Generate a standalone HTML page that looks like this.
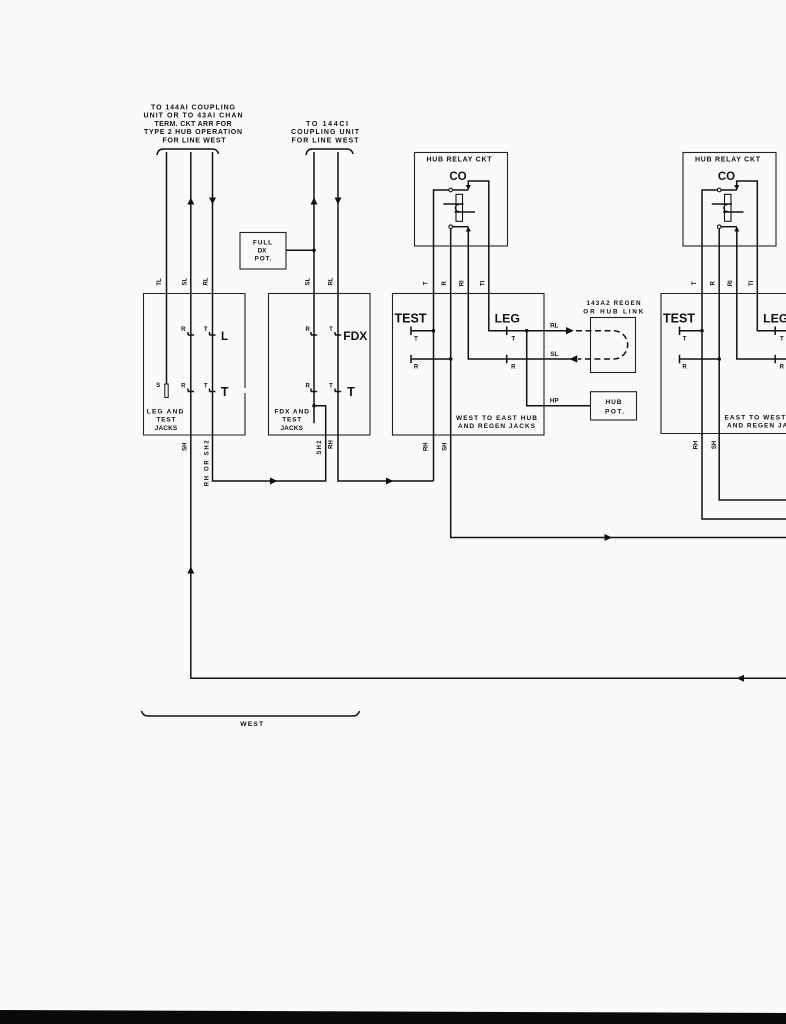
<!DOCTYPE html>
<html><head><meta charset="utf-8">
<style>
html,body{margin:0;padding:0;background:#fafafa;}
svg{display:block;}
text{font-family:"Liberation Sans",Arial,sans-serif;font-weight:bold;fill:#111;}
.w{stroke:#111;stroke-width:1.5;fill:none;}
.b{stroke:#222;stroke-width:1.1;fill:none;}
.f{fill:#111;stroke:none;}
</style></head><body>
<svg width="786" height="1024" viewBox="0 0 786 1024" xmlns="http://www.w3.org/2000/svg">
<rect width="786" height="1024" fill="#fafafa"/>

<!-- Top-left header text -->
<g font-size="7" text-anchor="middle">
<text x="193" y="109.3" textLength="84" lengthAdjust="spacing">TO 144AI COUPLING</text>
<text x="193" y="117.6" textLength="99" lengthAdjust="spacing">UNIT OR TO 43AI CHAN</text>
<text x="193" y="125.9" textLength="77" lengthAdjust="spacing">TERM. CKT ARR FOR</text>
<text x="193" y="134.2" textLength="98" lengthAdjust="spacing">TYPE 2 HUB OPERATION</text>
<text x="194" y="142.5" textLength="63" lengthAdjust="spacing">FOR LINE WEST</text>
<text x="327" y="125.9" textLength="42" lengthAdjust="spacing">TO 144CI</text>
<text x="325" y="134.2" textLength="68" lengthAdjust="spacing">COUPLING UNIT</text>
<text x="325" y="142.5" textLength="67" lengthAdjust="spacing">FOR LINE WEST</text>
</g>
<!-- braces -->
<path class="w" stroke-width="1.1" d="M157,155 Q158,149 163,149 L212.5,149 Q217.5,149 218.5,154"/>
<path class="w" stroke-width="1.1" d="M306,155 Q307,149 312,149 L347,149 Q352,149 353,154"/>

<!-- Full DX pot -->
<rect class="b" x="240" y="232.5" width="46" height="36.5"/>
<g font-size="6.3" text-anchor="middle">
<text x="262.5" y="244.5" textLength="19" lengthAdjust="spacing">FULL</text>
<text x="262" y="252.5">DX</text>
<text x="263" y="260.5" textLength="16.7" lengthAdjust="spacing">POT.</text>
</g>
<line class="w" x1="286" y1="250.3" x2="314" y2="250.3"/>
<circle class="f" cx="314" cy="250.3" r="1.8"/>

<!-- Left vertical wires -->
<line class="w" x1="166.5" y1="152" x2="166.5" y2="384"/>
<rect x="164.8" y="384" width="3.4" height="13.5" fill="#fafafa" stroke="#111" stroke-width="1"/>
<polyline class="w" points="190.8,152 190.8,678.3 790,678.3"/>
<polyline class="w" points="212.5,152 212.5,481 325.7,481 325.7,405.7 314,405.7"/>
<line class="w" x1="314" y1="152" x2="314" y2="423.3"/>
<circle class="f" cx="314" cy="405.7" r="1.8"/>
<polyline class="w" points="338,152 338,481 433.5,481"/>

<!-- Top arrows -->
<polygon class="f" points="190.8,197.5 187.3,204.5 194.3,204.5"/>
<polygon class="f" points="212.5,204.5 209,197.5 216,197.5"/>
<polygon class="f" points="314,197.5 310.5,204.5 317.5,204.5"/>
<polygon class="f" points="338,204.5 334.5,197.5 341.5,197.5"/>

<!-- Top wire labels -->
<g font-size="6" text-anchor="middle" dominant-baseline="central">
<text transform="translate(160,282) rotate(-90)">TL</text>
<text transform="translate(185.3,281.5) rotate(-90)">SL</text>
<text transform="translate(206.5,281.5) rotate(-90)">RL</text>
<text transform="translate(308.3,281.5) rotate(-90)">SL</text>
<text transform="translate(331.7,281.5) rotate(-90)">RL</text>
</g>

<!-- Box 1 -->
<path class="b" d="M245,388 L245,293.5 L143.5,293.5 L143.5,435 L245,435 L245,393"/>
<g class="w" stroke-width="1.2">
<line x1="188" y1="335" x2="194" y2="335"/><line x1="188" y1="332" x2="188" y2="335"/>
<line x1="209.5" y1="335" x2="215.5" y2="335"/><line x1="209.5" y1="332" x2="209.5" y2="335"/>
<line x1="188" y1="391.5" x2="194" y2="391.5"/><line x1="188" y1="388.5" x2="188" y2="391.5"/>
<line x1="209.5" y1="391.5" x2="215.5" y2="391.5"/><line x1="209.5" y1="388.5" x2="209.5" y2="391.5"/>
</g>
<g font-size="6" text-anchor="middle">
<text x="183.3" y="331">R</text><text x="205.7" y="331">T</text>
<text x="183.3" y="387.5">R</text><text x="205.7" y="387.5">T</text>
<text x="158.3" y="387">S</text>
</g>
<text x="224.5" y="340" font-size="11.5" text-anchor="middle">L</text>
<text x="224.7" y="396" font-size="12.5" text-anchor="middle">T</text>
<g font-size="6.5" text-anchor="middle">
<text x="165" y="413.5" textLength="36.5" lengthAdjust="spacing">LEG AND</text>
<text x="166" y="421.5" textLength="19" lengthAdjust="spacing">TEST</text>
<text x="166" y="429.8" textLength="22.5" lengthAdjust="spacing">JACKS</text>
</g>

<!-- Box 2 -->
<rect class="b" x="268.5" y="293.5" width="101.5" height="141.5"/>
<g class="w" stroke-width="1.2">
<line x1="311" y1="335" x2="317" y2="335"/><line x1="311" y1="332" x2="311" y2="335"/>
<line x1="335" y1="335" x2="341" y2="335"/><line x1="335" y1="332" x2="335" y2="335"/>
<line x1="311" y1="391.5" x2="317" y2="391.5"/><line x1="311" y1="388.5" x2="311" y2="391.5"/>
<line x1="335" y1="391.5" x2="341" y2="391.5"/><line x1="335" y1="388.5" x2="335" y2="391.5"/>
</g>
<g font-size="6" text-anchor="middle">
<text x="307.7" y="331">R</text><text x="331" y="331">T</text>
<text x="307.7" y="387.5">R</text><text x="331" y="387.5">T</text>
</g>
<text x="355.3" y="340" font-size="12" text-anchor="middle">FDX</text>
<text x="351" y="396" font-size="12.5" text-anchor="middle">T</text>
<g font-size="6.5" text-anchor="middle">
<text x="291.7" y="413.5" textLength="34.5" lengthAdjust="spacing">FDX AND</text>
<text x="291.7" y="421.5" textLength="19" lengthAdjust="spacing">TEST</text>
<text x="291.7" y="429.8" textLength="22.5" lengthAdjust="spacing">JACKS</text>
</g>

<!-- Bottom labels of left boxes -->
<g font-size="6" text-anchor="middle" dominant-baseline="central">
<text transform="translate(185.7,446.7) rotate(-90)">SH</text>
<text transform="translate(207.7,463.3) rotate(-90)" textLength="46" lengthAdjust="spacing">RH OR SH2</text>
<text transform="translate(320,447.5) rotate(-90)" textLength="14" lengthAdjust="spacing">SH2</text>
<text transform="translate(331.7,444.5) rotate(-90)">RH</text>
<text transform="translate(426.7,446.7) rotate(-90)">RH</text>
<text transform="translate(445.5,446.7) rotate(-90)">SH</text>
<text transform="translate(696.7,445) rotate(-90)">RH</text>
<text transform="translate(715,445) rotate(-90)">SH</text>
</g>

<!-- Lower connecting arrows -->
<polygon class="f" points="270,477.5 277.5,481 270,484.5"/>
<polygon class="f" points="386,477.5 393.5,481 386,484.5"/>
<polygon class="f" points="190.8,566.5 187.3,573.5 194.3,573.5"/>
<polygon class="f" points="604.5,534 612,537.5 604.5,541"/>
<polygon class="f" points="736.5,678.3 744,674.8 744,681.8"/>

<!-- Hub unit (middle) reused for right -->
<g id="unit">
<rect class="b" x="414.5" y="152.5" width="93" height="93.5"/>
<text x="459" y="161.7" font-size="7" text-anchor="middle" textLength="65" lengthAdjust="spacing">HUB RELAY CKT</text>
<text x="458" y="180" font-size="11.5" text-anchor="middle">CO</text>
<polyline class="w" points="449,190 433.5,190 433.5,435"/>
<line class="w" stroke-width="1.2" x1="452.5" y1="190" x2="468.3" y2="190"/>
<circle cx="450.7" cy="190" r="1.8" fill="#fafafa" stroke="#111" stroke-width="1.1"/>
<polygon class="f" points="465.8,185 470.8,185 468.3,190.5"/>
<polyline class="w" points="468.3,186 468.3,181 488.8,181 488.8,330.7 506.7,330.7 566,330.7"/>
<polyline class="w" points="450.7,228.5 450.7,435"/>
<line class="w" stroke-width="1.2" x1="452.5" y1="226.7" x2="468.3" y2="226.7"/>
<circle cx="450.7" cy="226.7" r="1.8" fill="#fafafa" stroke="#111" stroke-width="1.1"/>
<polygon class="f" points="465.8,231.5 470.8,231.5 468.3,226.2"/>
<polyline class="w" points="468.3,230 468.3,359 577,359"/>
<rect x="456" y="194.3" width="6.5" height="27" fill="none" stroke="#111" stroke-width="1.1"/>
<line class="w" stroke-width="1.1" x1="443.3" y1="204" x2="463.5" y2="204"/>
<line class="w" stroke-width="1.1" x1="454.5" y1="212" x2="475" y2="212"/>
<path d="M459,205 A2.8,3.2 0 1 0 459,211" fill="none" stroke="#111" stroke-width="1"/>
<g font-size="6" text-anchor="middle" dominant-baseline="central">
<text transform="translate(426.7,283.3) rotate(-90)">T</text>
<text transform="translate(445,283.3) rotate(-90)">R</text>
<text transform="translate(462.7,283.3) rotate(-90)">RI</text>
<text transform="translate(483.3,283.3) rotate(-90)">TI</text>
</g>
<text x="410.5" y="322.3" font-size="12.5" text-anchor="middle">TEST</text>
<text x="507.3" y="322.3" font-size="12.3" text-anchor="middle">LEG</text>
<line class="w" x1="411" y1="330.7" x2="433.5" y2="330.7"/>
<line class="w" stroke-width="1.2" x1="411" y1="326.5" x2="411" y2="335"/>
<circle class="f" cx="433.5" cy="330.7" r="1.8"/>
<line class="w" x1="411" y1="359" x2="450.7" y2="359"/>
<line class="w" stroke-width="1.2" x1="411" y1="354.8" x2="411" y2="363.3"/>
<circle class="f" cx="450.7" cy="359" r="1.8"/>
<line class="w" stroke-width="1.2" x1="506.7" y1="326.5" x2="506.7" y2="335"/>
<line class="w" stroke-width="1.2" x1="506.7" y1="354.8" x2="506.7" y2="363.3"/>
<g font-size="6" text-anchor="middle">
<text x="416" y="340.5">T</text><text x="416" y="368.5">R</text>
<text x="513.3" y="340.5">T</text><text x="513.3" y="368.5">R</text>
</g>
<circle class="f" cx="526.7" cy="330.7" r="1.8"/>
<polyline class="w" points="526.7,330.7 526.7,405.7 590.5,405.7"/>
</g>
<use href="#unit" transform="translate(268.5,0)"/>

<!-- Middle box -->
<rect class="b" x="392.5" y="293.5" width="151.5" height="141.5"/>
<g font-size="6.5" text-anchor="middle">
<text x="496.5" y="419.8" textLength="81" lengthAdjust="spacing">WEST TO EAST HUB</text>
<text x="496.5" y="428.2" textLength="77" lengthAdjust="spacing">AND REGEN JACKS</text>
</g>
<polyline class="w" points="433.5,435 433.5,481"/>
<polyline class="w" points="450.7,435 450.7,537.5 790,537.5"/>

<!-- RL / SL / HP labels & arrows -->
<g font-size="6.3" text-anchor="middle">
<text x="554.3" y="327.5">RL</text>
<text x="554.3" y="355.8">SL</text>
<text x="554.3" y="402.5">HP</text>
</g>
<polygon class="f" points="566,327 573.8,330.7 566,334.4"/>
<polygon class="f" points="569.5,359 577.3,355.3 577.3,362.7"/>

<!-- 143A2 link -->
<g font-size="6.3" text-anchor="middle">
<text x="613.5" y="304.8" textLength="54" lengthAdjust="spacing">143A2 REGEN</text>
<text x="613.3" y="313.5" textLength="60" lengthAdjust="spacing">OR HUB LINK</text>
</g>
<rect class="b" x="590.5" y="317.5" width="45" height="55"/>
<path d="M576,330.7 L613.5,330.7 A14.2,14.15 0 0 1 613.5,359 L578,359" fill="none" stroke="#111" stroke-width="1.5" stroke-dasharray="6,3.5"/>

<!-- HUB POT -->
<rect class="b" x="590.5" y="391.7" width="46" height="28.3"/>
<g font-size="6.5" text-anchor="middle">
<text x="613.5" y="404.2" textLength="16" lengthAdjust="spacing">HUB</text>
<text x="614.5" y="413.5" textLength="19" lengthAdjust="spacing">POT.</text>
</g>

<!-- Right box -->
<path class="b" d="M790,293.5 L661,293.5 L661,433.5 L790,433.5"/>
<g font-size="6.5">
<text x="724.5" y="419.3" textLength="81" lengthAdjust="spacing">EAST TO WEST HUB</text>
<text x="727" y="427.7" textLength="77" lengthAdjust="spacing">AND REGEN JACKS</text>
</g>
<polyline class="w" points="702,433.5 702,519 790,519"/>
<polyline class="w" points="719.2,433.5 719.2,500 790,500"/>

<!-- WEST brace -->
<path class="w" stroke-width="1.1" d="M141.5,711 Q143,716 148,716 L353,716 Q358,716 359.5,711"/>
<text x="251.7" y="725.8" font-size="6.8" text-anchor="middle" textLength="23" lengthAdjust="spacing">WEST</text>

<!-- bottom black bar -->
<polygon points="0,1010 786,1013 786,1024 0,1024" fill="#0a0a0a"/>
</svg>
</body></html>
